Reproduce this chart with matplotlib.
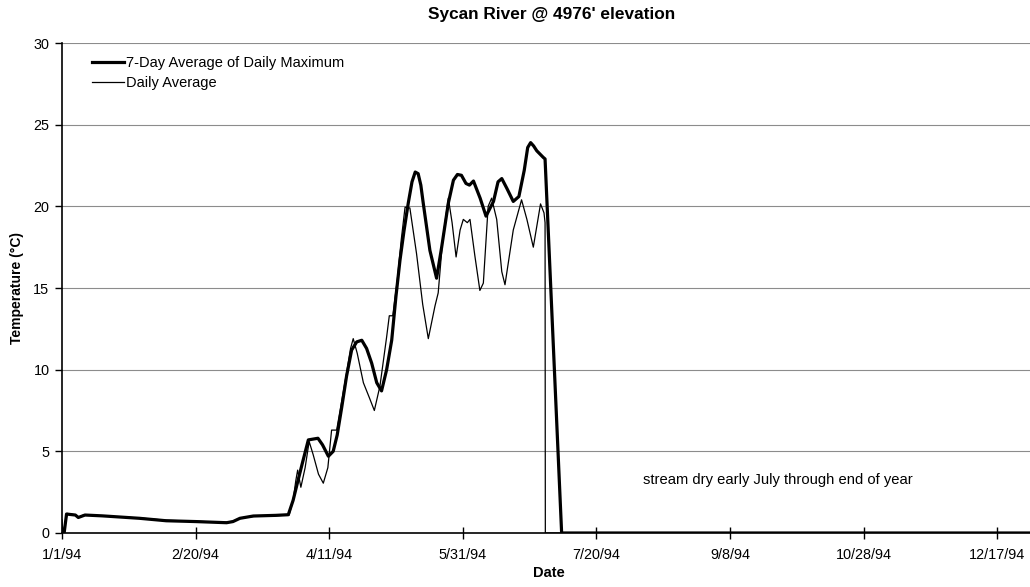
import numpy as np
import matplotlib
matplotlib.use('Agg')
import matplotlib.pyplot as plt

plt.rcParams['font.family'] = ['Liberation Sans', 'DejaVu Sans']

# days since 1/1/94
max7_days = [0, 0.8, 1.7, 5, 6.1, 8.6, 15, 29, 39, 50, 61.6, 64, 66.6, 71.6, 80, 84.7,
             86.5, 88, 90, 92.2, 95.8, 97.5, 99.7, 101.5, 103, 104.7, 106.5, 108.4, 110.3,
             112.2, 114, 115.9, 117.8, 119.6, 121.5, 123.4, 125, 126.5, 128, 129.6, 131,
             132.2, 133.3, 134.3, 135.2, 137.7, 140.2, 142.1, 144.6, 146.5, 148, 149.5, 151.2,
             152.5, 154, 156.5, 158.7, 161.5, 163.2, 164.6, 166.5, 168.9, 171, 173, 174.3, 175.4,
             176.5, 177.7, 180.1, 180.8, 187, 365]
max7_vals = [0, 0, 1.16, 1.1, 0.95, 1.1, 1.05, 0.9, 0.75, 0.7, 0.63, 0.7, 0.9, 1.04, 1.08, 1.12,
             2.0, 3.0, 4.3, 5.7, 5.8, 5.4, 4.7, 5.0, 6.0, 7.7, 9.6, 11.2, 11.7,
             11.8, 11.3, 10.4, 9.2, 8.7, 10.0, 11.8, 14.5, 16.7, 18.5, 20.2, 21.5,
             22.1, 22.0, 21.3, 20.2, 17.3, 15.6, 17.5, 20.2, 21.6, 21.95, 21.9, 21.4,
             21.3, 21.55, 20.5, 19.4, 20.3, 21.5, 21.7, 21.1, 20.3, 20.6, 22.2, 23.6, 23.9,
             23.7, 23.4, 23.0, 22.9, 0, 0]

avg_days = [0, 0.4, 2, 5, 6.5, 8, 15, 29, 39, 50, 61, 64, 67, 72, 80, 85,
            86.5, 87.5, 88.2, 89.4, 91, 92.5, 94, 96, 97.8, 99.5, 100.9, 102.8, 104.5,
            106.5, 108, 109, 110.5, 112.8, 115, 116.9, 119, 121.5, 122.5, 123.8, 125.5,
            127, 128.4, 130.2, 132.7, 135, 137.1, 139.6, 140.8, 142.5, 144.6, 146, 147.5,
            149, 150.2, 151.7, 152.7, 154.5, 156.4, 157.7, 159.5, 160.8, 162.7, 164.6,
            165.8, 168.9, 172, 174, 176.4, 179.1, 180.4, 180.8, 180.9, 365]
avg_vals = [0.8, 0, 1.2, 1.1, 0.95, 1.1, 1.05, 0.92, 0.78, 0.72, 0.65, 0.72, 0.92, 1.02, 1.06, 1.1,
            2.0, 3.2, 3.85, 2.8, 4.0, 5.6, 4.8, 3.6, 3.05, 4.0, 6.3, 6.3, 7.9,
            9.8, 11.3, 11.9, 11.0, 9.2, 8.3, 7.5, 9.0, 12.0, 13.3, 13.3, 15.5,
            18.0, 19.95, 19.9, 17.1, 14.0, 11.9, 13.9, 14.7, 18.0, 20.5, 19.0, 16.9,
            18.55, 19.2, 19.0, 19.2, 17.0, 14.85, 15.3, 20.0, 20.5, 19.2, 16.0,
            15.2, 18.55, 20.4, 19.2, 17.5, 20.15, 19.6, 19.0, 0, 0]

tick_days = [0, 50, 100, 150, 200, 250, 300, 350]
tick_labels = ['1/1/94', '2/20/94', '4/11/94', '5/31/94', '7/20/94', '9/8/94', '10/28/94', '12/17/94']

fig = plt.figure(figsize=(10.30, 5.87), dpi=100)
ax = fig.add_axes([62 / 1030, 1 - 533 / 587, 1 - 62 / 1030, 490 / 587])

for y in range(5, 31, 5):
    ax.axhline(y, color='#8c8c8c', lw=0.8, zorder=0)

ax.plot(max7_days, max7_vals, color='black', lw=2.3, label='7-Day Average of Daily Maximum', zorder=3)
ax.plot(avg_days, avg_vals, color='black', lw=0.9, label='Daily Average', zorder=4)

ax.set_xlim(0, 362.3)
ax.set_ylim(0, 30)
ax.set_xticks(tick_days)
ax.set_xticklabels(tick_labels)
ax.set_yticks(range(0, 31, 5))
ax.tick_params(axis='x', direction='inout', length=9, width=1, labelsize=10.4, pad=6)
ax.tick_params(axis='y', direction='out', length=5, width=1, labelsize=10.4, pad=4)
for s in ['top', 'right']:
    ax.spines[s].set_visible(False)
ax.spines['left'].set_linewidth(1.2)
ax.spines['bottom'].set_linewidth(1.2)

ax.legend(loc='upper left', bbox_to_anchor=(30 / 968, 0.974), frameon=False, fontsize=10.5,
          handlelength=2.2, handletextpad=0.15, labelspacing=0.45, borderpad=0, borderaxespad=0)

ax.text(267.8, 3.25, 'stream dry early July through end of year', ha='center', va='center', fontsize=10.6)

fig.text(552 / 1030, 1 - 15 / 587, "Sycan River @ 4976' elevation", ha='center', va='center',
         fontsize=12.4, fontweight='bold')
fig.text(549 / 1030, 1 - 573 / 587, 'Date', ha='center', va='center', fontsize=10.5, fontweight='bold')
fig.text(17 / 1030, 1 - 288 / 587, 'Temperature (°C)', ha='center', va='center', rotation=90,
         fontsize=10, fontweight='bold')

fig.savefig('out.png', dpi=100)
